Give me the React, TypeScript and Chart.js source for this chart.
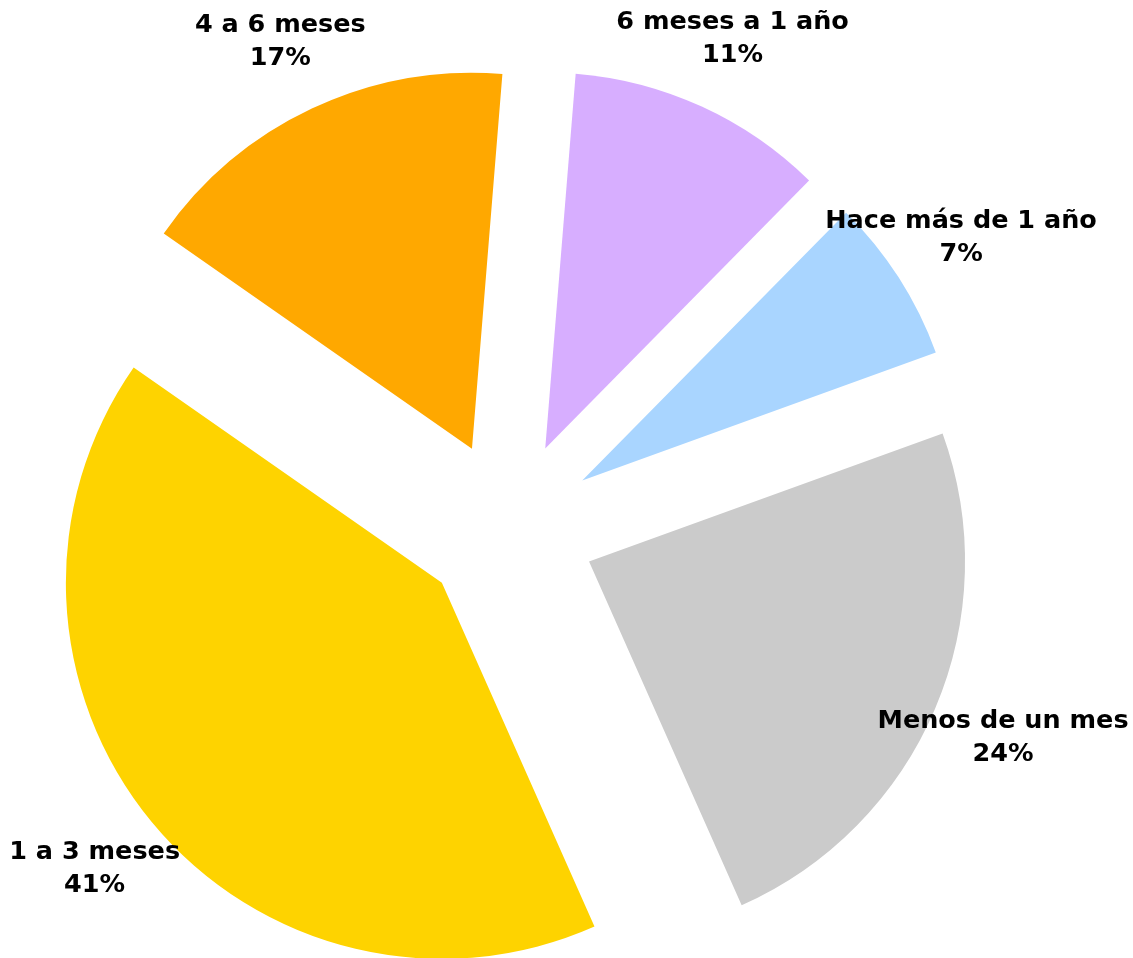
import React, { useEffect, useRef } from "react";
import { Chart, registerables } from "chart.js";

Chart.register(...registerables);

const categories = ["Menos de un mes", "1 a 3 meses", "4 a 6 meses", "6 meses a 1 año", "Hace más de 1 año"];
const values = [23.9, 41.4, 16.6, 11.1, 7.1];
const colors = ["#CBCBCB", "#FED300", "#FFA800", "#D7AEFF", "#A9D5FF"];

const EXPLODE = 87;
const RADIUS = 376;
const LABEL_GAP = 74;
const FONT = "bold 25.5px 'DejaVu Sans', sans-serif";

const total = values.reduce((a, b) => a + b, 0);

// Chart.js grows and trims exploded arcs by offset*(1 - sin(circumference)).
// Setting the circumference hint to PI/2 makes that correction zero, so every
// slice keeps the same radius and its exact start/end angles (endAngle is untouched).
const uniformExplodePlugin = {
  id: "uniformExplode",
  beforeDatasetsDraw(chart: any) {
    const meta = chart.getDatasetMeta(0);
    meta.data.forEach((arc: any) => {
      arc.circumference = Math.PI / 2;
    });
  },
};

const labelPlugin = {
  id: "outerLabels",
  afterDatasetsDraw(chart: any) {
    const ctx = chart.ctx;
    const meta = chart.getDatasetMeta(0);
    const base = meta.controller.outerRadius;
    ctx.save();
    ctx.font = FONT;
    ctx.fillStyle = "#000000";
    ctx.textAlign = "center";
    ctx.textBaseline = "middle";
    meta.data.forEach((arc: any, i: number) => {
      const mid = (arc.startAngle + arc.endAngle) / 2;
      const dist = base + EXPLODE + LABEL_GAP;
      const x = arc.x + Math.cos(mid) * dist;
      const y = arc.y + Math.sin(mid) * dist;
      const pct = Math.round((values[i] / total) * 100) + "%";
      ctx.fillText(categories[i], x, y - 16.5);
      ctx.fillText(pct, x, y + 16.5);
    });
    ctx.restore();
  },
};

export default function App() {
  const ref = useRef<HTMLCanvasElement | null>(null);
  useEffect(() => {
    if (!ref.current) return;
    const chart = new Chart(ref.current, {
      type: "pie",
      data: {
        labels: categories,
        datasets: [
          {
            data: values,
            backgroundColor: colors,
            borderWidth: 0,
            offset: 4 * EXPLODE,
          } as any,
        ],
      },
      options: {
        animation: false,
        responsive: false,
        maintainAspectRatio: false,
        rotation: 70.1,
        radius: RADIUS,
        layout: { padding: { left: 0, right: 115, top: 97, bottom: 0 } },
        plugins: {
          legend: { display: false },
          tooltip: { enabled: false },
        },
        events: [],
      } as any,
      plugins: [uniformExplodePlugin, labelPlugin],
    });
    return () => chart.destroy();
  }, []);
  return (
    <div style={{ position: "absolute", left: 0, top: 0, width: 1133, height: 958, background: "#ffffff" }}>
      <canvas ref={ref} width={1133} height={958} style={{ width: 1133, height: 958 }} />
    </div>
  );
}
